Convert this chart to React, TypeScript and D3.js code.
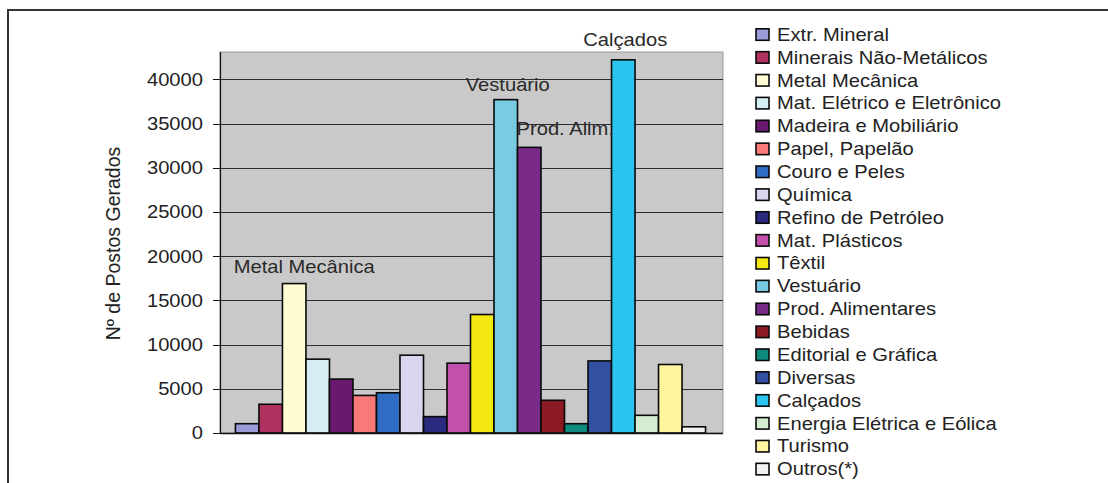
import React from "react";
import * as d3 from "d3";

// Setores industriais e postos de trabalho gerados
const sectors: string[] = [
  "Extr. Mineral",
  "Minerais Não-Metálicos",
  "Metal Mecânica",
  "Mat. Elétrico e Eletrônico",
  "Madeira e Mobiliário",
  "Papel, Papelão",
  "Couro e Peles",
  "Química",
  "Refino de Petróleo",
  "Mat. Plásticos",
  "Têxtil",
  "Vestuário",
  "Prod. Alimentares",
  "Bebidas",
  "Editorial e Gráfica",
  "Diversas",
  "Calçados",
  "Energia Elétrica e Eólica",
  "Turismo",
  "Outros(*)",
];

const postos: number[] = [
  1050, 3250, 16900, 8350, 6100, 4250, 4550, 8800, 1850, 7900,
  13400, 37700, 32300, 3700, 1050, 8150, 42200, 2000, 7750, 700,
];

const sectorColors: string[] = [
  "#9d9bda", "#b0305f", "#fffbd2", "#d4eef4", "#6a1a6e",
  "#f87a78", "#2f6cc4", "#d8d5ef", "#2a2a7e", "#c151aa",
  "#f4ea12", "#78cbe0", "#7a2a88", "#8c1a22", "#0f8a7e",
  "#3450a0", "#2cc4f0", "#d5ecd2", "#fff4a0", "#f2f2f2",
];

const yTicks: number[] = [0, 5000, 10000, 15000, 20000, 25000, 30000, 35000, 40000];

// Rótulos destacados sobre algumas barras
const highlightSectors: string[] = ["Metal Mecânica", "Vestuário", "Prod. Alimentares", "Calçados"];
const highlightLabels: string[] = ["Metal Mecânica", "Vestuário", "Prod. Alim.", "Calçados"];

const W = 1108;
const H = 483;
const plot = { left: 220, right: 722, top: 52, bottom: 433 };
const FONT = "'Liberation Sans', Arial, Helvetica, sans-serif";
const SX = 1.12; // horizontal stretch of the text glyphs

export default function App() {
  const x = d3
    .scaleBand<string>()
    .domain(sectors)
    .range([plot.left - 1, plot.right])
    .paddingInner(0)
    .paddingOuter(0.7);

  const y = d3.scaleLinear().domain([0, 40000]).range([plot.bottom, 79.3]);

  const labelDx: Record<string, number> = {
    "Metal Mecânica": 10,
    "Vestuário": 2,
    "Prod. Alimentares": 36,
    "Calçados": 2,
  };
  const labelDy: Record<string, number> = {
    "Metal Mecânica": 11,
    "Vestuário": 9,
    "Prod. Alimentares": 12,
    "Calçados": 14,
  };

  const legendX = 756;
  const legendY0 = 34.3;
  const legendStep = 22.87;

  return (
    <svg
      width={W}
      height={H}
      style={{ position: "absolute", left: 0, top: 0, background: "#ffffff" }}
      fontFamily={FONT}
    >
      {/* moldura externa */}
      <rect x={8} y={10} width={1300} height={700} fill="none" stroke="#333" strokeWidth={2} />

      {/* área do gráfico */}
      <rect
        x={plot.left}
        y={plot.top}
        width={plot.right + 1 - plot.left}
        height={plot.bottom - plot.top}
        fill="#c9c9c9"
        stroke="#9a9a9a"
        strokeWidth={1}
      />

      {/* grade horizontal */}
      {yTicks
        .filter((t) => t > 0)
        .map((t) => (
          <line
            key={`g${t}`}
            x1={plot.left}
            x2={plot.right + 1}
            y1={Math.round(y(t)) + 0.5}
            y2={Math.round(y(t)) + 0.5}
            stroke="#2e2e2e"
            strokeWidth={1}
          />
        ))}

      {/* eixo Y */}
      <line x1={plot.left + 0.5} x2={plot.left + 0.5} y1={plot.top} y2={plot.bottom + 1} stroke="#111" strokeWidth={1.2} />
      {yTicks.map((t) => (
        <g key={`t${t}`}>
          <line
            x1={plot.left - 7}
            x2={plot.left}
            y1={Math.round(y(t)) + 0.5}
            y2={Math.round(y(t)) + 0.5}
            stroke="#111"
            strokeWidth={1}
          />
          <g transform={`translate(${plot.left - 17},${y(t)}) scale(${SX},1)`}>
            <text textAnchor="end" dy="0.36em" fontSize={18} fill="#222">
              {t}
            </text>
          </g>
        </g>
      ))}

      {/* barras */}
      {sectors.map((s, i) => (
        <rect
          key={s}
          x={x(s)!}
          y={y(postos[i])}
          width={x.bandwidth()}
          height={plot.bottom - y(postos[i])}
          fill={sectorColors[i]}
          stroke="#0a0a0a"
          strokeWidth={1.6}
        />
      ))}

      {/* eixo X */}
      <line x1={plot.left} x2={plot.right + 1} y1={plot.bottom + 0.5} y2={plot.bottom + 0.5} stroke="#111" strokeWidth={1.5} />

      {/* rótulos destacados */}
      {highlightSectors.map((s, k) => {
        const i = sectors.indexOf(s);
        const cx = x(s)! + x.bandwidth() / 2 + labelDx[s];
        const by = y(postos[i]) - labelDy[s];
        return (
          <g key={`l${s}`} transform={`translate(${cx},${by}) scale(${SX},1)`}>
            <text textAnchor="middle" fontSize={18} fill="#2a2a2a">
              {highlightLabels[k]}
            </text>
          </g>
        );
      })}

      {/* título do eixo Y */}
      <g transform={`translate(113,243.5) rotate(-90)`}>
        <text textAnchor="middle" dy="0.36em" fontSize={19.5} fill="#222">
          Nº de Postos Gerados
        </text>
      </g>

      {/* legenda */}
      {sectors.map((s, i) => {
        const cy = legendY0 + i * legendStep;
        return (
          <g key={`lg${s}`}>
            <rect
              x={legendX}
              y={cy - 5.5}
              width={13}
              height={11.5}
              fill={sectorColors[i]}
              stroke="#0a0a0a"
              strokeWidth={1.6}
            />
            <g transform={`translate(${legendX + 21},${cy}) scale(${SX},1)`}>
              <text dy="0.36em" fontSize={18} fill="#222">
                {s}
              </text>
            </g>
          </g>
        );
      })}
    </svg>
  );
}
